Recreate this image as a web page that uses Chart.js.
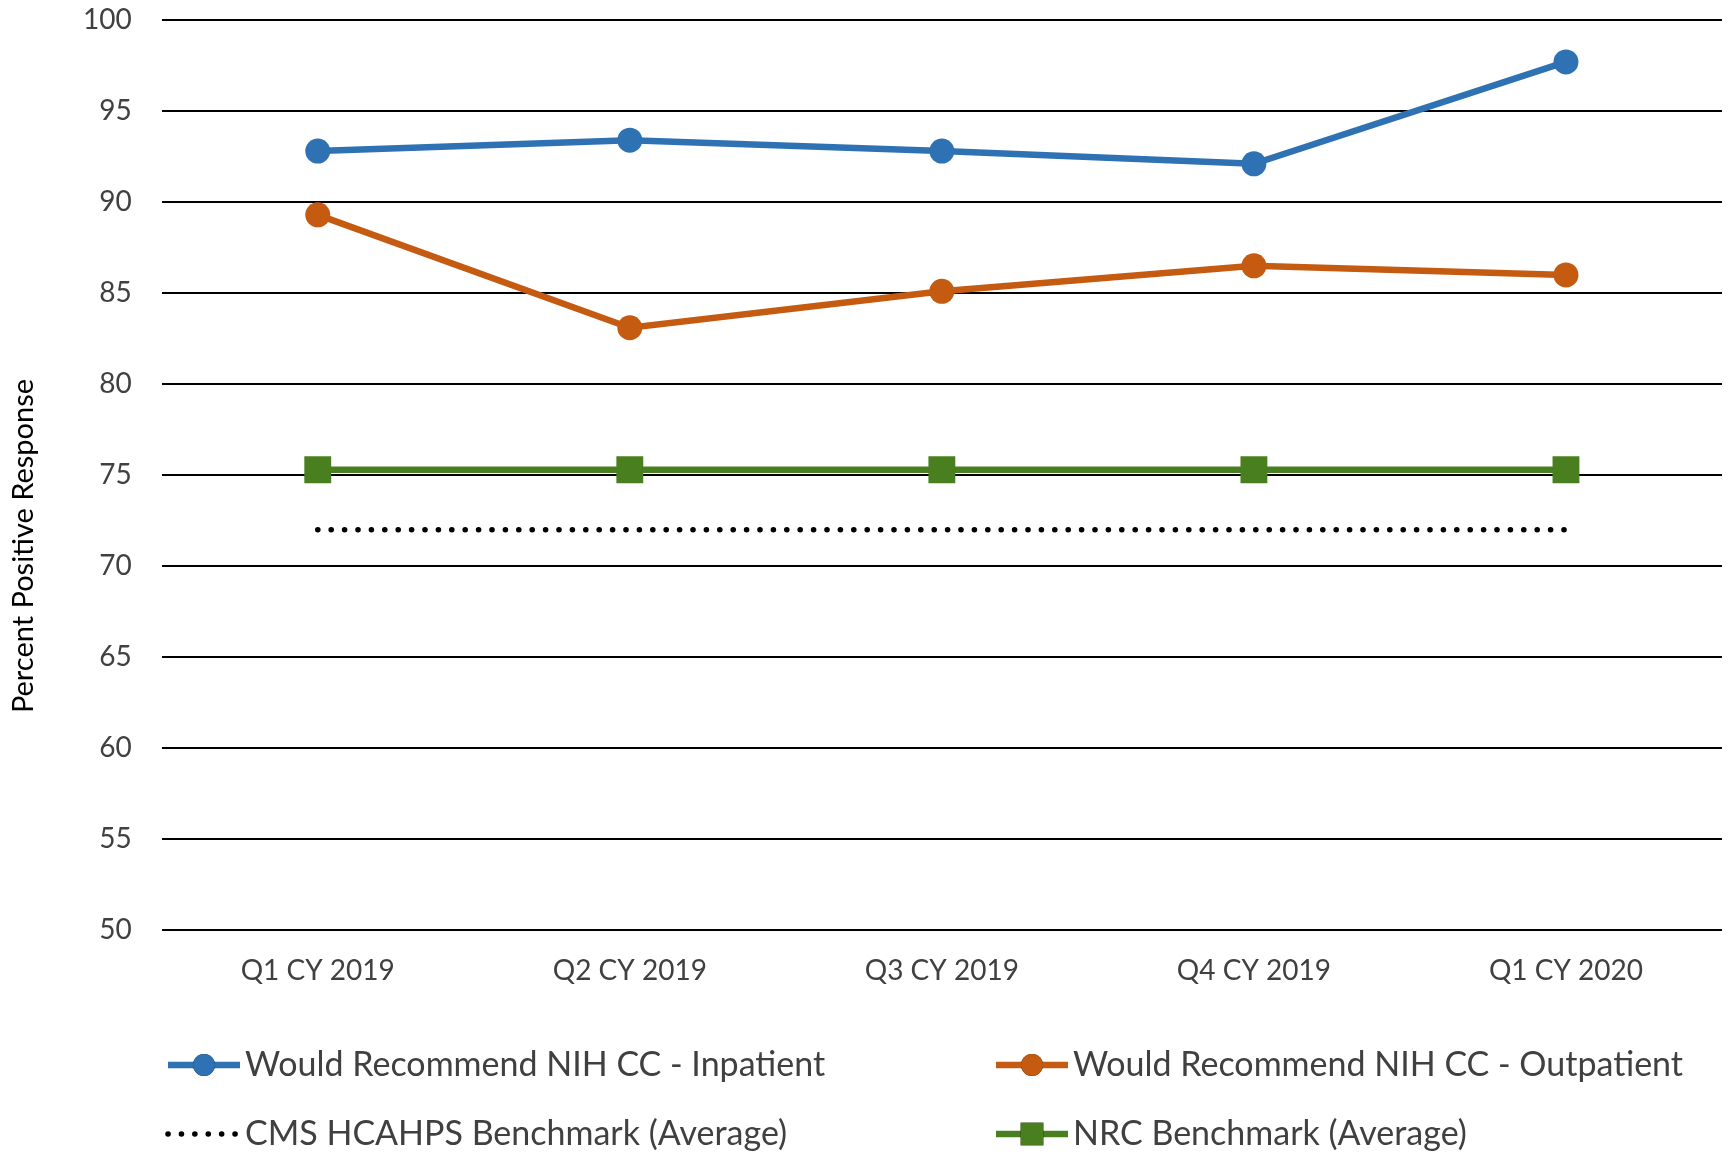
<!DOCTYPE html>
<html lang="en">
<head>
    <meta charset="UTF-8">
    <title>Would Recommend NIH CC</title>
    <script src="https://cdn.jsdelivr.net/npm/chart.js"></script>
    <style>
        body { margin: 0; background: #fff; }
    </style>
</head>
<body>
    <canvas id="recChart" width="1729" height="1154"></canvas>
    <script>
// quarters on the x axis
const quarters = ['Q1 CY 2019', 'Q2 CY 2019', 'Q3 CY 2019', 'Q4 CY 2019', 'Q1 CY 2020'];
// percent positive response
const inpatient = [92.8, 93.4, 92.8, 92.1, 97.7];
const outpatient = [89.3, 83.1, 85.1, 86.5, 86.0];
const cmsBenchmark = [72, 72, 72, 72, 72];
const nrcBenchmark = [75.3, 75.3, 75.3, 75.3, 75.3];
const yTicks = [50, 55, 60, 65, 70, 75, 80, 85, 90, 95, 100];

const FONT = 'Lato, "Open Sans", sans-serif';
const TEXT = '#404040';

// legend drawn in two aligned columns under the plot, plus the y title
const extrasPlugin = {
    id: 'extras',
    afterDraw(chart) {
        const ctx = chart.ctx;
        ctx.save();
        // y axis title
        ctx.translate(24, 546);
        ctx.rotate(-Math.PI / 2);
        ctx.fillStyle = '#000';
        ctx.font = '29px ' + FONT;
        ctx.textAlign = 'center';
        ctx.textBaseline = 'middle';
        ctx.fillText('Percent Positive Response', 0, 0);
        ctx.restore();

        const cols = [168, 996];
        const rows = [1065, 1134];
        chart.data.datasets.forEach((ds, i) => {
            const x = cols[i % 2];
            const y = rows[Math.floor(i / 2)];
            ctx.save();
            ctx.strokeStyle = ds.borderColor;
            ctx.lineWidth = ds.borderWidth;
            ctx.lineCap = ds.borderCapStyle || 'butt';
            ctx.setLineDash(ds.borderDash || []);
            ctx.beginPath();
            ctx.moveTo(x, y);
            ctx.lineTo(x + 72, y);
            ctx.stroke();
            ctx.setLineDash([]);
            if (ds.pointRadius > 0) {
                Chart.helpers.drawPoint(ctx, {
                    pointStyle: ds.pointStyle,
                    radius: ds.pointStyle === 'rect' ? 16 : 11,
                    borderWidth: 0,
                    rotation: 0
                }, x + 36, y);
                ctx.fillStyle = ds.backgroundColor;
                ctx.fill();
            }
            ctx.fillStyle = TEXT;
            ctx.font = '34px ' + FONT;
            ctx.textAlign = 'left';
            ctx.textBaseline = 'middle';
            ctx.fillText(ds.label, x + 77, y);
            ctx.restore();
        });
    }
};

const ctx = document.getElementById('recChart').getContext('2d');
new Chart(ctx, {
    type: 'line',
    data: {
        labels: quarters,
        datasets: [
            {
                label: 'Would Recommend NIH CC - Inpatient',
                data: inpatient,
                borderColor: '#2E72B4',
                backgroundColor: '#2E72B4',
                borderWidth: 6.5,
                pointStyle: 'circle',
                pointRadius: 12.5,
                pointBorderWidth: 0,
                order: 0
            },
            {
                label: 'Would Recommend NIH CC - Outpatient',
                data: outpatient,
                borderColor: '#C55A11',
                backgroundColor: '#C55A11',
                borderWidth: 6.5,
                pointStyle: 'circle',
                pointRadius: 12.5,
                pointBorderWidth: 0,
                order: 1
            },
            {
                label: 'CMS HCAHPS Benchmark (Average)',
                data: cmsBenchmark,
                borderColor: '#000000',
                backgroundColor: '#000000',
                borderWidth: 5.5,
                borderDash: [0.1, 13.3],
                borderCapStyle: 'round',
                pointRadius: 0,
                order: 3
            },
            {
                label: 'NRC Benchmark (Average)',
                data: nrcBenchmark,
                borderColor: '#4A7F20',
                backgroundColor: '#4A7F20',
                borderWidth: 6.5,
                pointStyle: 'rect',
                pointRadius: 19,
                pointBorderWidth: 0,
                order: 2
            }
        ]
    },
    options: {
        responsive: false,
        animation: false,
        layout: { autoPadding: false, padding: { left: 53, right: 7, top: 0, bottom: 142 } },
        plugins: {
            legend: { display: false },
            tooltip: { enabled: false }
        },
        scales: {
            x: {
                offset: true,
                grid: { display: false, drawTicks: false },
                border: { display: false },
                ticks: {
                    padding: 24,
                    color: TEXT,
                    font: { family: FONT, size: 28 }
                }
            },
            y: {
                min: 50,
                max: 100,
                afterBuildTicks(axis) {
                    axis.ticks = yTicks.map(v => ({ value: v }));
                },
                // tick padding would otherwise push the plot top down
                afterFit(scale) {
                    scale.paddingTop = 20;
                    scale.paddingBottom = 20;
                },
                grid: { color: '#000000', lineWidth: 2, drawTicks: false },
                border: { display: false },
                ticks: {
                    padding: 30,
                    color: TEXT,
                    font: { family: FONT, size: 28 }
                }
            }
        }
    },
    plugins: [extrasPlugin]
});
    </script>
</body>
</html>
